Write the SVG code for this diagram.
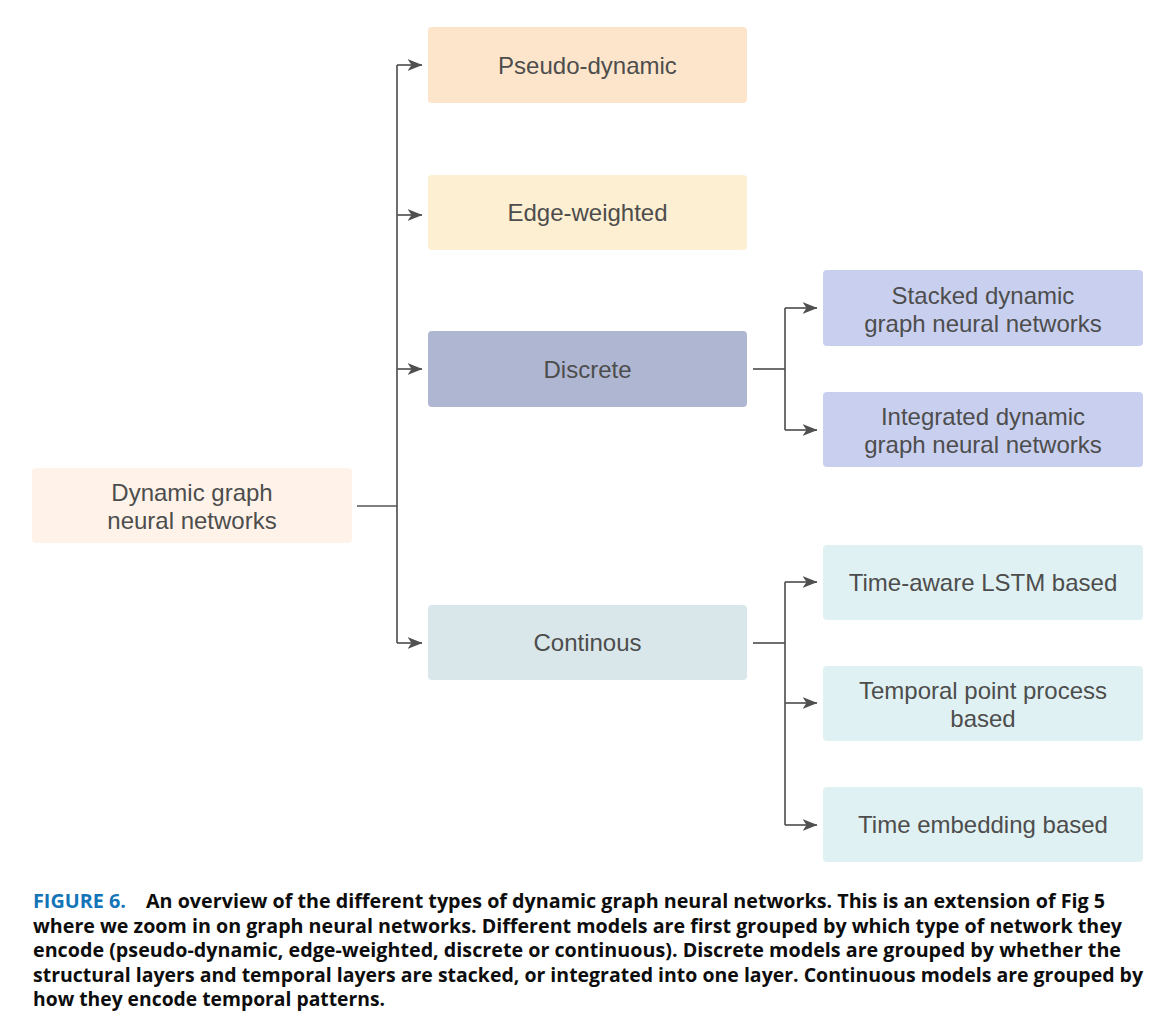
<svg xmlns="http://www.w3.org/2000/svg" width="1162" height="1034" viewBox="0 0 1162 1034">
<style>
.lbl{font-family:"Liberation Sans",Arial,sans-serif;font-size:24px;fill:#4d4d4d;text-anchor:middle}
.cap{font-family:"Open Sans","Noto Sans",sans-serif;font-size:19px;font-weight:700;fill:#0d0d0d}
.fig{fill:#1474b8}
.con{fill:none;stroke:#555;stroke-width:1.7}
</style>
<defs>
<marker id="arr" viewBox="0 0 15 12" refX="14.5" refY="6" markerWidth="15" markerHeight="12" markerUnits="userSpaceOnUse" orient="auto">
<path d="M0,0 L15,6 L0,12 L4,6 Z" fill="#505050"/>
</marker>
</defs>
<rect width="1162" height="1034" fill="#fff"/>
<g id="connectors">
<path class="con" d="M357,506 H397"/>
<path class="con" d="M397,65 V643"/>
<path class="con" d="M397,65 H422" marker-end="url(#arr)"/>
<path class="con" d="M397,215 H422" marker-end="url(#arr)"/>
<path class="con" d="M397,369 H422" marker-end="url(#arr)"/>
<path class="con" d="M397,643 H422" marker-end="url(#arr)"/>
<path class="con" d="M753,369 H785"/>
<path class="con" d="M785,308 V430"/>
<path class="con" d="M785,308 H817" marker-end="url(#arr)"/>
<path class="con" d="M785,430 H817" marker-end="url(#arr)"/>
<path class="con" d="M753,643 H785"/>
<path class="con" d="M785,582 V825"/>
<path class="con" d="M785,582 H817" marker-end="url(#arr)"/>
<path class="con" d="M785,703 H817" marker-end="url(#arr)"/>
<path class="con" d="M785,825 H817" marker-end="url(#arr)"/>
</g>
<g id="root">
<rect x="32" y="468" width="320" height="75" rx="4" fill="#fff3e9"/>
<text class="lbl" x="192" y="501">Dynamic graph</text>
<text class="lbl" x="192" y="529">neural networks</text>
</g>
<g id="pseudo">
<rect x="428" y="27" width="319" height="76" rx="4" fill="#fde5cb"/>
<text class="lbl" x="587.5" y="74">Pseudo-dynamic</text>
</g>
<g id="edge">
<rect x="428" y="175" width="319" height="75" rx="4" fill="#fdefd1"/>
<text class="lbl" x="587.5" y="221">Edge-weighted</text>
</g>
<g id="discrete">
<rect x="428" y="331" width="319" height="76" rx="4" fill="#afb6d1"/>
<text class="lbl" x="587.5" y="378">Discrete</text>
</g>
<g id="continous">
<rect x="428" y="605" width="319" height="75" rx="4" fill="#d9e7ea"/>
<text class="lbl" x="587.5" y="651">Continous</text>
</g>
<g id="stacked">
<rect x="823" y="270" width="320" height="76" rx="4" fill="#c9d0ef"/>
<text class="lbl" x="983" y="303.5">Stacked dynamic</text>
<text class="lbl" x="983" y="331.5">graph neural networks</text>
</g>
<g id="integrated">
<rect x="823" y="392" width="320" height="75" rx="4" fill="#c9d0ef"/>
<text class="lbl" x="983" y="425">Integrated dynamic</text>
<text class="lbl" x="983" y="453">graph neural networks</text>
</g>
<g id="lstm">
<rect x="823" y="545" width="320" height="75" rx="4" fill="#e0f1f3"/>
<text class="lbl" x="983" y="591">Time-aware LSTM based</text>
</g>
<g id="tpp">
<rect x="823" y="666" width="320" height="75" rx="4" fill="#e0f1f3"/>
<text class="lbl" x="983" y="699">Temporal point process</text>
<text class="lbl" x="983" y="727">based</text>
</g>
<g id="embedding">
<rect x="823" y="787" width="320" height="75" rx="4" fill="#e0f1f3"/>
<text class="lbl" x="983" y="833">Time embedding based</text>
</g>
<g id="caption">
<text class="cap fig" x="33" y="908" textLength="93" lengthAdjust="spacingAndGlyphs">FIGURE 6.</text>
<text class="cap" x="146" y="908" textLength="959" lengthAdjust="spacingAndGlyphs">An overview of the different types of dynamic graph neural networks. This is an extension of Fig 5</text>
<text class="cap" x="33" y="933" textLength="1089" lengthAdjust="spacingAndGlyphs">where we zoom in on graph neural networks. Different models are first grouped by which type of network they</text>
<text class="cap" x="33" y="957" textLength="1088" lengthAdjust="spacingAndGlyphs">encode (pseudo-dynamic, edge-weighted, discrete or continuous). Discrete models are grouped by whether the</text>
<text class="cap" x="33" y="982" textLength="1110" lengthAdjust="spacingAndGlyphs">structural layers and temporal layers are stacked, or integrated into one layer. Continuous models are grouped by</text>
<text class="cap" x="33" y="1006" textLength="352" lengthAdjust="spacingAndGlyphs">how they encode temporal patterns.</text>
</g>
</svg>
